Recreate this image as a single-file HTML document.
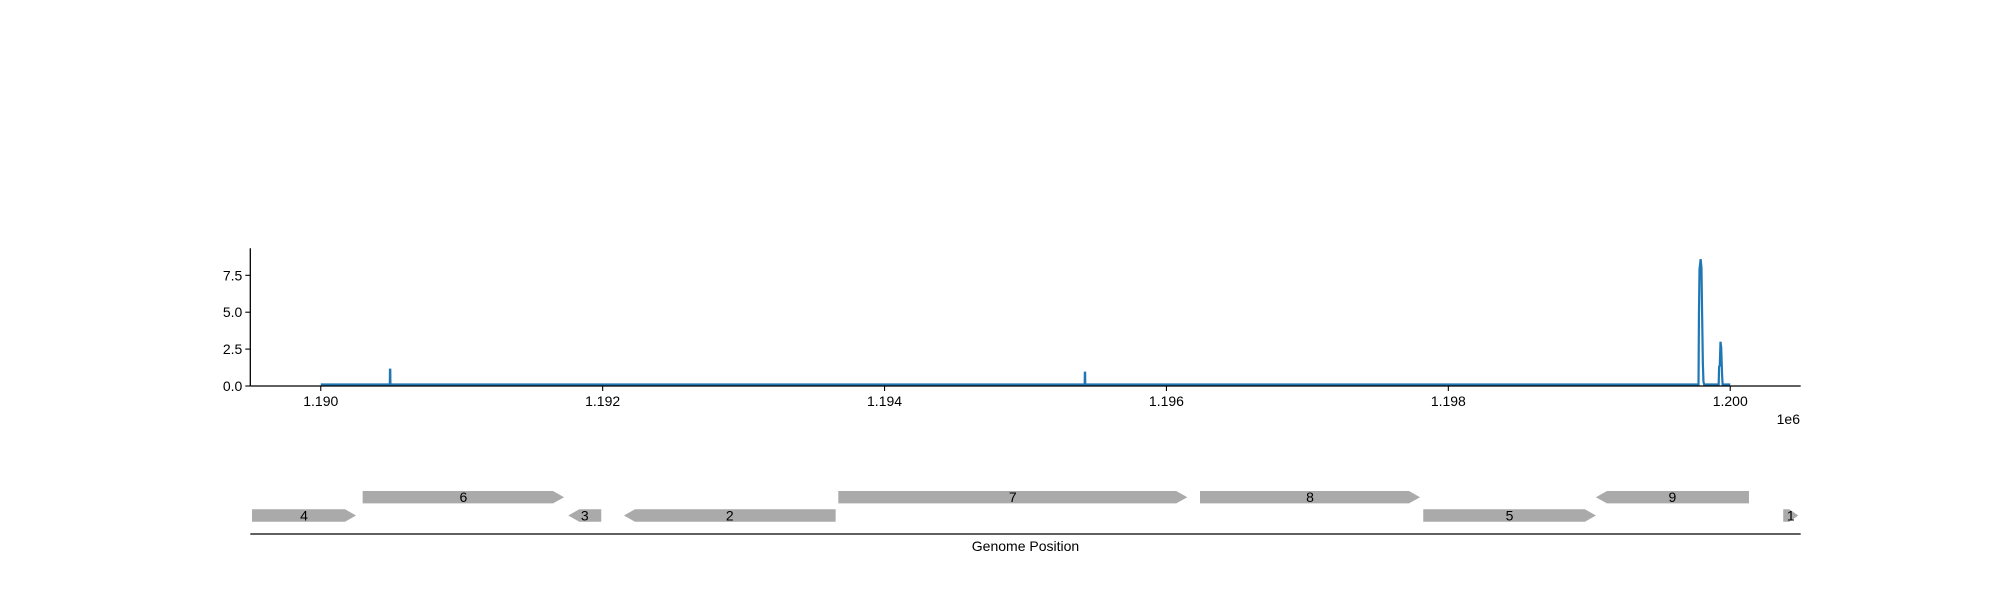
<!DOCTYPE html>
<html><head><meta charset="utf-8"><style>
html,body{margin:0;padding:0;background:#fff;}
svg{display:block;font-family:"Liberation Sans","DejaVu Sans",sans-serif;}
</style></head><body>
<svg id="chart" width="2000" height="600" viewBox="0 0 2000 600" xmlns="http://www.w3.org/2000/svg">
<rect width="2000" height="600" fill="#fff"/>
<g id="topPanel"></g>
<g id="bottomPanel"></g>
</svg>
<script>
const xTicks = [1190000, 1192000, 1194000, 1196000, 1198000, 1200000];
const xTickLabels = ["1.190", "1.192", "1.194", "1.196", "1.198", "1.200"];
const yTicks = [0, 2.5, 5, 7.5];
const yTickLabels = ["0.0", "2.5", "5.0", "7.5"];
const covPos = [1190000, 1190490, 1190491, 1190493, 1190494, 1195420, 1195421, 1195423, 1195424, 1199775, 1199778, 1199782, 1199790, 1199796, 1199800, 1199806, 1199810, 1199815, 1199918, 1199921, 1199926, 1199931, 1199936, 1199942, 1199946, 1200000];
const covVal = [0.1, 0.1, 1.1, 1.1, 0.1, 0.1, 0.9, 0.9, 0.1, 0.1, 4.8, 7.9, 8.6, 8.0, 5.2, 1.5, 0.3, 0.1, 0.1, 1.3, 1.4, 3.0, 2.6, 0.8, 0.1, 0.1];
const geneNames = ["4","6","3","2","7","8","5","9","1"];
const geneStart = [1189512, 1190297, 1191756, 1192151, 1193672, 1196238, 1197822, 1199047, 1200376];
const geneEnd = [1190250, 1191726, 1191990, 1193653, 1196148, 1197799, 1199047, 1200133, 1200483];
const geneStrand = [1, 1, -1, -1, 1, 1, 1, -1, 1];
const geneRow = [0, 1, 0, 0, 1, 1, 0, 1, 0];

const NS = "http://www.w3.org/2000/svg";
const X0 = 250.3, X1 = 1800.7, DMIN = 1189500, DMAX = 1200500;
const YB = 386, YT = 248.3, YMAX = 9.33;
function sx(v){ return X0 + (v - DMIN) / (DMAX - DMIN) * (X1 - X0); }
function sy(v){ return YB - v / YMAX * (YB - YT); }
function mk(tag, attrs, parent){
  const e = document.createElementNS(NS, tag);
  for (const k in attrs) e.setAttribute(k, attrs[k]);
  parent.appendChild(e);
  return e;
}
const topG = document.getElementById('topPanel');
const bottomG = document.getElementById('bottomPanel');

let d = "";
covPos.forEach((p, i) => { d += (i ? "L" : "M") + sx(p).toFixed(2) + " " + sy(covVal[i]).toFixed(2); });
const line = mk('path', {d: d, fill: 'none', stroke: '#1f77b4', 'stroke-width': 2.2, 'stroke-linejoin': 'miter'}, topG);



const ls = mk('line', {x1: X0, y1: YT, x2: X0, y2: YB, stroke: '#000', 'stroke-width': 1.3}, topG);


const bs = mk('line', {x1: X0, y1: YB, x2: X1, y2: YB, stroke: '#000', 'stroke-width': 1.3}, topG);



xTicks.forEach((t, i) => {
  const x = sx(t);
  const tk = mk('line', {x1: x, y1: YB, x2: x, y2: YB + 5, stroke: '#000', 'stroke-width': 1.1}, topG);
  
  
  const tx = mk('text', {x: x, y: 406, 'text-anchor': 'middle', 'font-size': 14, fill: '#000'}, topG);
  tx.textContent = xTickLabels[i];
  
  
});
yTicks.forEach((t, i) => {
  const y = sy(t);
  const tk = mk('line', {x1: X0 - 5, y1: y, x2: X0, y2: y, stroke: '#000', 'stroke-width': 1.1}, topG);
  
  
  const tx = mk('text', {x: X0 - 8, y: y + 5, 'text-anchor': 'end', 'font-size': 14, fill: '#000'}, topG);
  tx.textContent = yTickLabels[i];
  
  
});
const off = mk('text', {x: 1800, y: 424, 'text-anchor': 'end', 'font-size': 14, fill: '#000'}, topG);
off.textContent = "1e6";



const rowTop = [509.3, 491];
const H = 12.4, HEAD = 11;
geneNames.forEach((n, i) => {
  const a = sx(geneStart[i]), b = sx(geneEnd[i]);
  const y0 = rowTop[geneRow[i]], y1 = y0 + H, ym = y0 + H / 2;
  const h = Math.min(HEAD, (b - a) * 0.6);
  let pts;
  if (geneStrand[i] > 0) pts = [[a,y0],[b-h,y0],[b,ym],[b-h,y1],[a,y1]];
  else pts = [[a,ym],[a+h,y0],[b,y0],[b,y1],[a+h,y1]];
  const pg = mk('polygon', {points: pts.map(p => p[0].toFixed(2) + "," + p[1].toFixed(2)).join(" "), fill: '#aaaaaa'}, bottomG);
  
  
  const tx = mk('text', {x: (a + b) / 2, y: ym + 5, 'text-anchor': 'middle', 'font-size': 14, fill: '#000'}, bottomG);
  tx.textContent = n;
  
  
});
const gl = mk('line', {x1: X0, y1: 534, x2: X1, y2: 534, stroke: '#000', 'stroke-width': 1.3}, bottomG);


const xt = mk('text', {x: (X0 + X1) / 2, y: 551, 'text-anchor': 'middle', 'font-size': 14, fill: '#000'}, bottomG);
xt.textContent = "Genome Position";


</script>
</body></html>
